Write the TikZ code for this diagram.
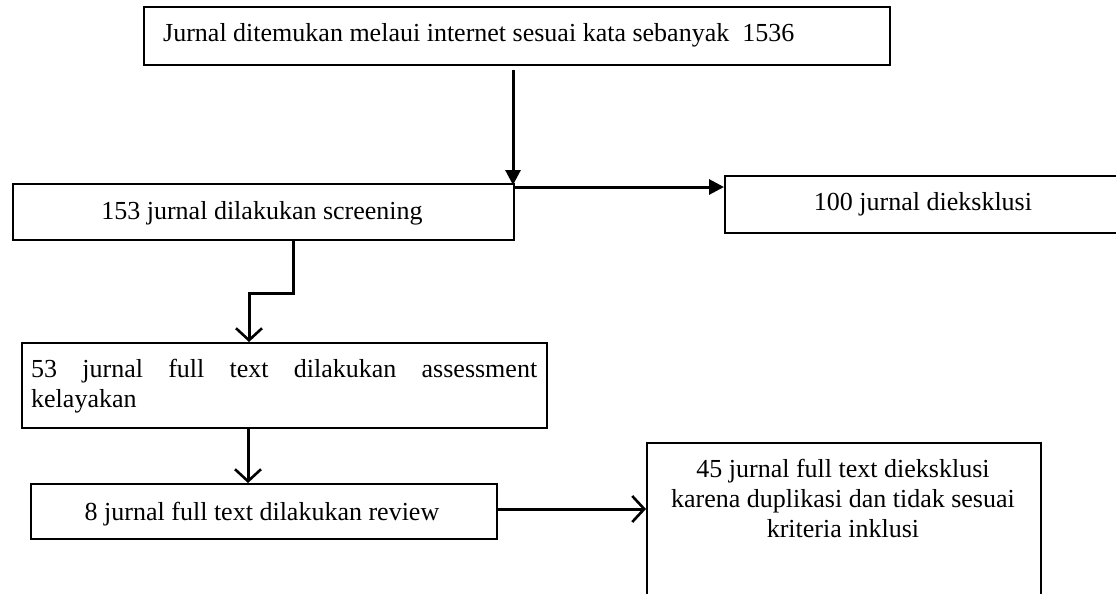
\documentclass[tikz,border=0pt]{standalone}
\usepackage{fontspec}
\setmainfont{Liberation Serif}
\usetikzlibrary{arrows.meta}
\begin{document}
\begin{tikzpicture}[x=1pt,y=-1pt,
  box/.style={draw,line width=2pt,rectangle,anchor=north west,inner sep=0pt},
  txt/.style={inner sep=0pt,font=\fontsize{26}{30}\selectfont},
  conn/.style={line width=3pt},
  filledtip/.style={-{Triangle[length=15pt,width=15pt]}},
  opentip/.style={-{Straight Barb[length=12pt,width=26pt,line width=2.6pt]}}]
\useasboundingbox (0,0) rectangle (1116,594);
\clip (0,0) rectangle (1116,594);
% boxes
\node[box,minimum width=746pt,minimum height=58pt] (top) at (143,6) {};
\node[box,minimum width=501pt,minimum height=56pt] (screen) at (12,183) {};
\node[box,minimum width=400pt,minimum height=57pt] (excl) at (724,175) {};
\node[box,minimum width=525pt,minimum height=85pt] (assess) at (21,342) {};
\node[box,minimum width=466pt,minimum height=55pt] (review) at (30,483) {};
\node[box,minimum width=394pt,minimum height=170pt] (excl2) at (646,442) {};
% texts
\node[txt,anchor=base west] (toptext) at (163,42) {Jurnal ditemukan melaui internet sesuai kata sebanyak\ \ 1536};
\node[txt,anchor=base] (screentext) at (262,219) {153 jurnal dilakukan screening};
\node[txt,anchor=base] (excltext) at (923,210) {100 jurnal dieksklusi};
\node[txt,anchor=north west,text width=506pt,align=justify] (assesstext) at (31,359) {53 jurnal full text dilakukan assessment \mbox{kelayakan}};
\node[txt,anchor=base] (reviewtext) at (262,520) {8 jurnal full text dilakukan review};
\node[txt,anchor=north,align=center] (excl2text) at (843,459) {45 jurnal full text dieksklusi\\karena duplikasi dan tidak sesuai\\kriteria inklusi};
% connectors
\coordinate (a1s) at (513,70);
\coordinate (a1e) at (513,185);
\coordinate (a2s) at (513,187);
\coordinate (a2e) at (724,187);
\draw[conn,filledtip] (a1s) -- (a1e);
\draw[conn,filledtip] (a2s) -- (a2e);
\coordinate (a3s) at (293,240);
\coordinate (a3e) at (249,342);
\draw[conn,opentip] (a3s) -- (293,293) -- (249,293) -- (a3e);
\coordinate (a4s) at (248,428);
\coordinate (a4e) at (248,483);
\draw[conn,opentip] (a4s) -- (a4e);
\coordinate (a5s) at (496,509);
\coordinate (a5e) at (646,509);
\draw[conn,opentip] (a5s) -- (a5e);
\end{tikzpicture}
\end{document}
